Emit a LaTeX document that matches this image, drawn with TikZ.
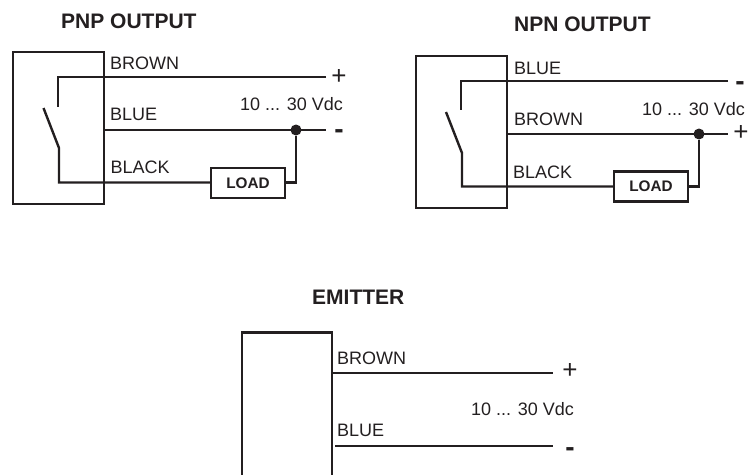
\documentclass[tikz,border=0pt]{standalone}
\usepackage{fontspec}
\setmainfont{Liberation Sans}
\definecolor{ink}{HTML}{231F20}
\tikzset{
  wire/.style={draw=ink,line width=2.4pt,line join=miter},
  sensorbox/.style={draw=ink,line width=2.5pt,inner sep=0pt,minimum width=91pt,minimum height=152pt},
  loadbox/.style={draw=ink,line width=2.5pt,fill=white,inner sep=0pt,minimum width=74pt,minimum height=30pt,text=ink,font=\fontsize{15.3}{16}\selectfont\bfseries},
  wlabel/.style={anchor=base west,inner sep=0pt,text=ink,font=\fontsize{18}{20}\selectfont},
  title/.style={anchor=base west,inner sep=0pt,text=ink,font=\fontsize{21}{24}\selectfont\bfseries},
  plussign/.style={anchor=center,inner sep=0pt,text=ink,font=\fontsize{26}{28}\selectfont},
  minussign/.style={anchor=center,inner sep=0pt,text=ink,font=\fontsize{28}{30}\selectfont\bfseries},
  junction/.style={circle,fill=ink,inner sep=0pt,minimum size=11pt},
}
\begin{document}
\begin{tikzpicture}[x=1pt,y=-1pt]
\useasboundingbox (0,0) rectangle (754,474);
% PNP
\node[title] (t1) at (61,28) {PNP OUTPUT};
\node[sensorbox] (s1) at (58.5,128) {};
\node[wlabel] (l1a) at (110,69) {BROWN};
\node[wlabel] (l1b) at (110,120) {BLUE};
\node[wlabel] (l1c) at (110.5,173) {BLACK};
\node[wlabel] (v1) at (240,110) {10 ... 30 Vdc};
\node[plussign] (p1) at (339,77) {+};
\node[minussign] (m1) at (339,134) {-};
\node[loadbox] (load1) at (248,183) {LOAD};
\node[junction] (j1) at (296,130) {};
\coordinate (a1) at (326,77);
\coordinate (b1) at (58,77);
\coordinate (c1) at (58,106.5);
\coordinate (d1) at (43.5,108);
\coordinate (e1) at (59,148);
\coordinate (f1) at (59,182.5);
\coordinate (g1) at (104,130);
\coordinate (h1) at (326,130);
\draw[wire] (a1) -- (b1) -- (c1);
\draw[wire] (d1) -- (e1) -- (f1) -- (load1.west |- f1);
\draw[wire] (g1) -- (h1);
\draw[wire] (load1.east |- f1) -| (j1);
% NPN
\node[title] (t2) at (514,31) {NPN OUTPUT};
\node[sensorbox] (s2) at (461.5,132) {};
\node[wlabel] (l2a) at (514,74) {BLUE};
\node[wlabel] (l2b) at (514,125) {BROWN};
\node[wlabel] (l2c) at (513,178) {BLACK};
\node[wlabel] (v2) at (642,115) {10 ... 30 Vdc};
\node[minussign] (m2) at (740,86) {-};
\node[plussign] (p2) at (741,133) {+};
\node[loadbox] (load2) at (651,186.5) {LOAD};
\node[junction] (j2) at (699,134) {};
\coordinate (a2) at (728,81);
\coordinate (b2) at (461,81);
\coordinate (c2) at (461,110);
\coordinate (d2) at (446,112);
\coordinate (e2) at (462,153);
\coordinate (f2) at (462,186.5);
\coordinate (g2) at (507,134);
\coordinate (h2) at (728,134);
\draw[wire] (a2) -- (b2) -- (c2);
\draw[wire] (d2) -- (e2) -- (f2) -- (load2.west |- f2);
\draw[wire] (g2) -- (h2);
\draw[wire] (load2.east |- f2) -| (j2);
% Emitter
\node[title] (t3) at (312,304) {EMITTER};
\coordinate (s3a) at (242,476);
\coordinate (s3b) at (242,332.5);
\coordinate (s3c) at (332,332.5);
\coordinate (s3d) at (332,476);
\draw[wire,line width=2.5pt] (s3a) -- (s3b) -- (s3c) -- (s3d);
\node[wlabel] (l3a) at (337,364) {BROWN};
\node[wlabel] (l3b) at (337,436) {BLUE};
\node[wlabel] (v3) at (471,415) {10 ... 30 Vdc};
\node[plussign] (p3) at (570,371) {+};
\node[minussign] (m3) at (570,452) {-};
\coordinate (g3) at (332,373);
\coordinate (h3) at (553,373);
\coordinate (i3) at (335,446);
\coordinate (k3) at (553,446);
\draw[wire] (g3) -- (h3);
\draw[wire] (i3) -- (k3);
\end{tikzpicture}
\end{document}
